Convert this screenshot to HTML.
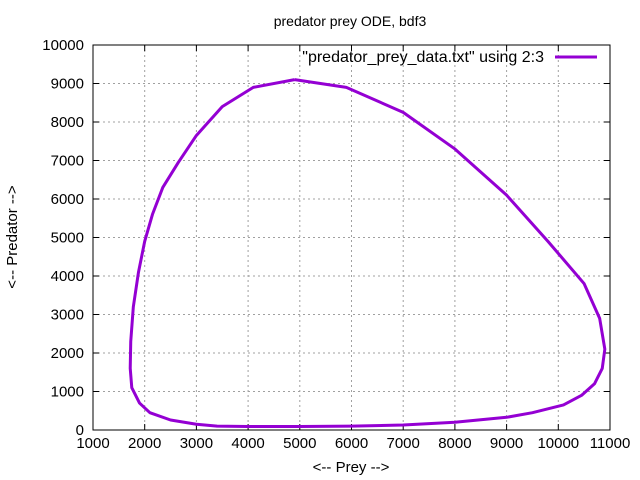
<!DOCTYPE html>
<html><head><meta charset="utf-8"><style>body{margin:0;background:#fff}svg{display:block;font-family:"Liberation Sans",Arial,sans-serif}</style></head>
<body>
<svg id="chart" width="640" height="480">
<rect width="640" height="480" fill="#fff"/>
<g id="grid"></g>
<g id="ticks"></g>
<rect x="93" y="45" width="517" height="385" fill="none" stroke="#000" stroke-width="1"/>
<text x="350" y="26" text-anchor="middle" font-size="14">predator prey ODE, bdf3</text>
<text x="351" y="472" text-anchor="middle" font-size="15">&lt;-- Prey --&gt;</text>
<text transform="translate(17,237) rotate(-90)" text-anchor="middle" font-size="15">&lt;-- Predator --&gt;</text>
<g>
<text x="544" y="62" text-anchor="end" font-size="16">"predator_prey_data.txt" using 2:3</text>
<line x1="555" y1="57" x2="597" y2="57" stroke="#9400d3" stroke-width="3"/>
</g>
<polyline id="curve" fill="none" stroke="#9400d3" stroke-width="3" stroke-linejoin="round"/>
</svg>
<script>
const xTicks=[1000,2000,3000,4000,5000,6000,7000,8000,9000,10000,11000];
const yTicks=[0,1000,2000,3000,4000,5000,6000,7000,8000,9000,10000];
const prey=[4900,5900,7000,8000,9000,9800,10500,10800,10900,10850,10700,10450,10100,9500,9000,8000,7000,6000,5000,4000,3400,3000,2500,2100,1900,1750,1720,1730,1780,1880,2000,2150,2350,2650,3000,3500,4100,4900];
const predator=[9100,8900,8250,7300,6100,4900,3800,2900,2100,1600,1200,900,650,450,330,200,130,100,90,90,100,150,260,450,700,1100,1600,2300,3200,4100,4900,5600,6300,6950,7650,8400,8900,9100];
const L=93,R=610,T=45,B=430;
const sx=v=>L+(v-1000)/10000*(R-L), sy=v=>B-(v/10000)*(B-T);
const NS="http://www.w3.org/2000/svg";
const grid=document.getElementById('grid'), ticks=document.getElementById('ticks');
function mk(tag,attrs,parent){const e=document.createElementNS(NS,tag);for(const k in attrs)e.setAttribute(k,attrs[k]);parent.appendChild(e);return e;}
xTicks.forEach(v=>{const x=sx(v);
 if(v>1000&&v<11000){const g=mk('line',{x1:x,y1:T,x2:x,y2:B,stroke:'#a0a0a0','stroke-dasharray':'2,3','stroke-width':1},grid);
 
 }
 mk('line',{x1:x,y1:B,x2:x,y2:B-6,stroke:'#000'},ticks);mk('line',{x1:x,y1:T,x2:x,y2:T+6,stroke:'#000'},ticks);
 const t=mk('text',{x:x,y:B+18,'text-anchor':'middle','font-size':15},ticks);t.textContent=v;
 
 });
yTicks.forEach(v=>{const y=sy(v);
 if(v>0&&v<10000){const g=mk('line',{x1:L,y1:y,x2:R,y2:y,stroke:'#a0a0a0','stroke-dasharray':'2,3','stroke-width':1},grid);
 
 }
 mk('line',{x1:L,y1:y,x2:L+6,y2:y,stroke:'#000'},ticks);mk('line',{x1:R,y1:y,x2:R-6,y2:y,stroke:'#000'},ticks);
 const t=mk('text',{x:L-9,y:y+5,'text-anchor':'end','font-size':15},ticks);t.textContent=v;
 
 });
document.getElementById('curve').setAttribute('points',prey.map((p,i)=>sx(p)+','+sy(predator[i])).join(' '));
</script>
</body></html>
